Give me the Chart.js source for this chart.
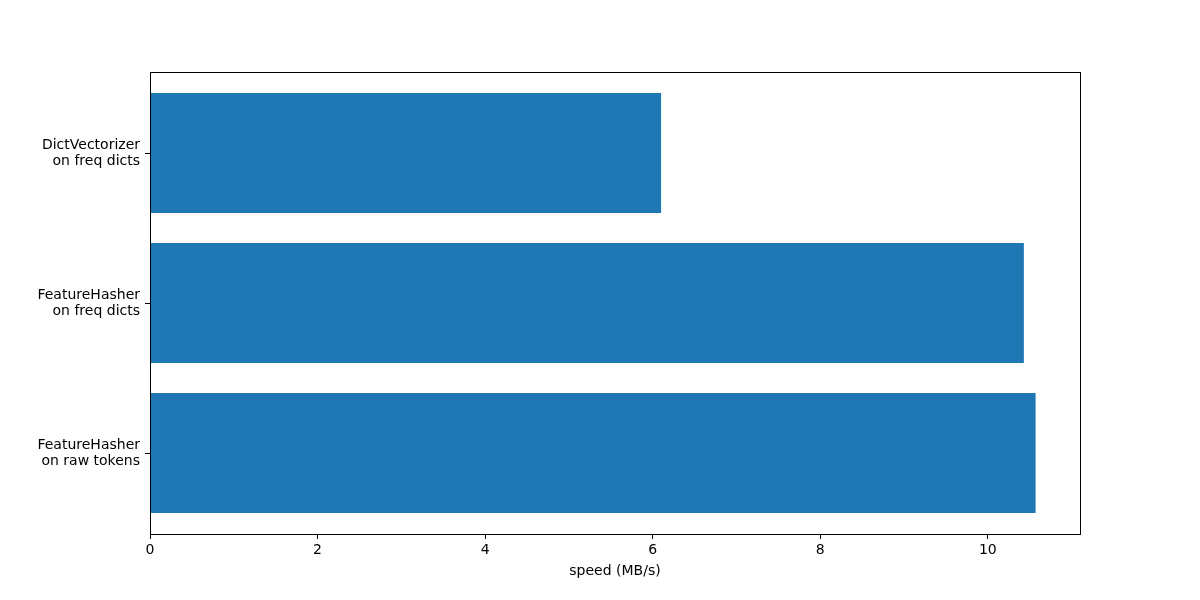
<!DOCTYPE html>
<html lang="en">
<head>
  <meta charset="utf-8">
  <title>Vectorizer speed</title>
  <script src="https://cdn.jsdelivr.net/npm/chart.js@4.4.1/dist/chart.umd.min.js"></script>
  <style>
    html, body { margin: 0; padding: 0; background: #fff; }
    #wrap { width: 1200px; height: 600px; }
  </style>
</head>
<body>
<div id="wrap"><canvas id="bar" width="1200" height="600"></canvas></div>

<script>
// bottom to top, as matplotlib barh places them
var labels = [
    ["FeatureHasher", "on raw tokens"],
    ["FeatureHasher", "on freq dicts"],
    ["DictVectorizer", "on freq dicts"]
];
var positions = [0, 1, 2];
var speeds = [10.57, 10.43, 6.10];
var xTicks = [0, 2, 4, 6, 8, 10];

var font = { family: "'DejaVu Sans', sans-serif", size: 14, lineHeight: 1.15 };

// draws top + right spines so the plot has a full frame
var framePlugin = {
    id: 'frame',
    afterDraw: function(chart) {
        var a = chart.chartArea, c = chart.ctx;
        c.save();
        c.strokeStyle = '#000';
        c.lineWidth = 1;
        c.strokeRect(a.left + 0.5, a.top + 0.5, a.right - a.left, a.bottom - a.top);
        c.restore();
    }
};

var ctx = document.getElementById("bar").getContext('2d');
var chart = new Chart(ctx, {
    type: 'bar',
    data: {
        datasets: [{
            data: positions.map(function(p, i) { return { x: speeds[i], y: p }; }),
            backgroundColor: '#1f77b4',
            borderWidth: 0,
            barPercentage: 0.8,
            categoryPercentage: 1.0
        }]
    },
    options: {
        indexAxis: 'y',
        responsive: false,
        animation: false,
        events: [],
        layout: { padding: { top: 72, right: 120, left: 0, bottom: 21 } },
        plugins: { legend: { display: false }, tooltip: { enabled: false } },
        scales: {
            x: {
                type: 'linear',
                min: 0,
                max: 11.10,
                afterBuildTicks: function(s) { s.ticks = xTicks.map(function(v) { return { value: v }; }); },
                afterFit: function(s) { s.height = 45; },
                grid: { drawOnChartArea: false, drawTicks: true, tickLength: 5, color: '#000' },
                border: { display: true, color: '#000' },
                ticks: { color: '#000', font: font, padding: 3, maxRotation: 0 },
                title: { display: true, text: 'speed (MB/s)', color: '#000', font: font, padding: { top: 2, bottom: 0 } }
            },
            y: {
                type: 'linear',
                offset: false,
                min: -0.54,
                max: 2.54,
                afterBuildTicks: function(s) { s.ticks = positions.map(function(v) { return { value: v }; }); },
                afterFit: function(s) { s.width = 150; },
                grid: { offset: false, drawOnChartArea: false, drawTicks: true, tickLength: 5, color: '#000' },
                border: { display: true, color: '#000' },
                ticks: {
                    color: '#000', font: font, padding: 5,
                    callback: function(v) { return labels[positions.indexOf(v)]; }
                }
            }
        }
    },
    plugins: [framePlugin]
});
</script>
</body>
</html>
